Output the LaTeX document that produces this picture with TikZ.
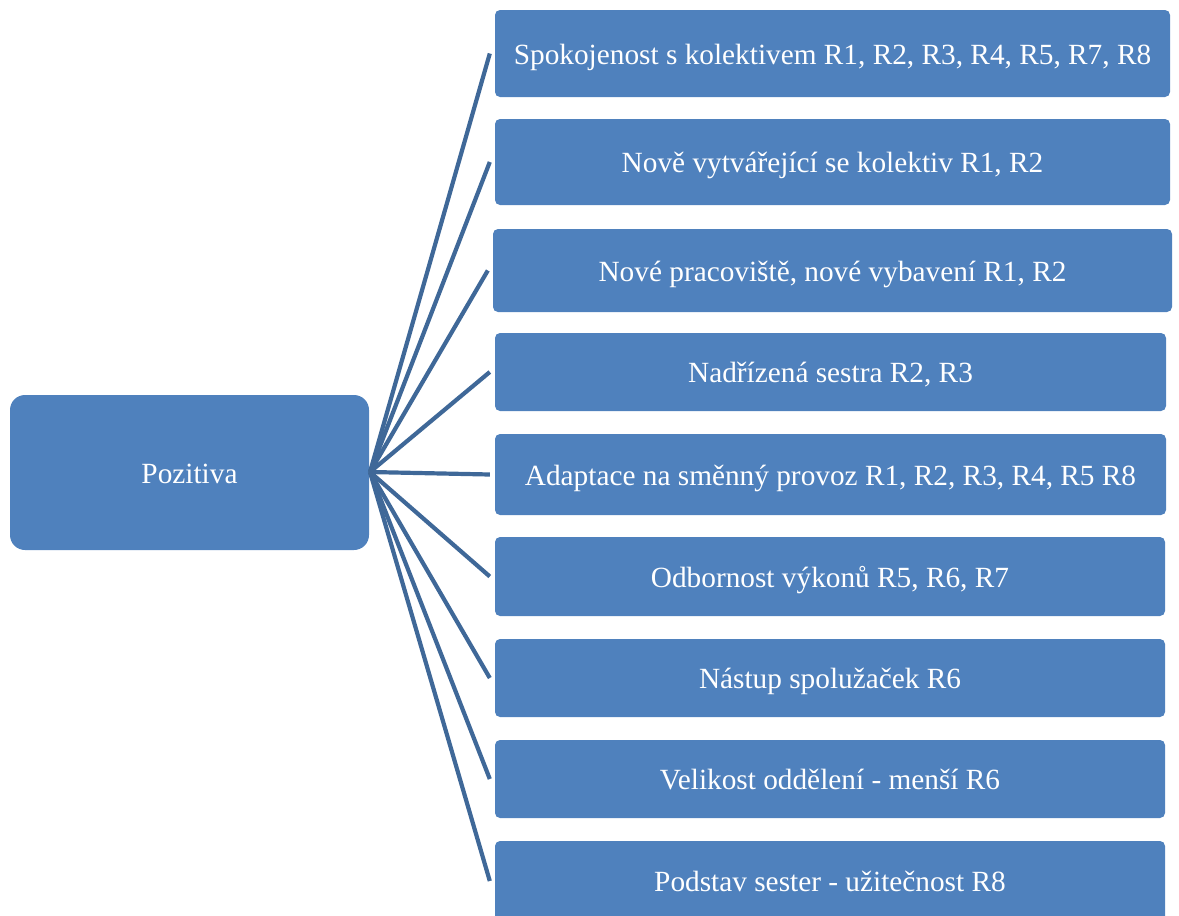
\documentclass[tikz,border=0pt]{standalone}
\usepackage{fontspec}
\setmainfont{Liberation Serif}
\definecolor{boxblue}{HTML}{4F81BD}
\definecolor{linkblue}{HTML}{3F6898}
\tikzset{
  boxtext/.style={text=white, font=\fontsize{29.3}{32}\selectfont, inner sep=0pt, text height=21pt, text depth=0pt},
  hubbox/.style={boxtext, fill=boxblue, rounded corners=15pt},
  itembox/.style={boxtext, fill=boxblue, rounded corners=5pt},
  link/.style={draw=linkblue, line width=4.2pt}
}
\begin{document}
\begin{tikzpicture}[x=1pt, y=-1pt]
\useasboundingbox (0,0) rectangle (1179,916);
\begin{scope}
\clip (0,0) rectangle (1179,916);
\node[hubbox, minimum width=359pt, minimum height=155pt] (hub) at (189.5,472.5) {Pozitiva};
\coordinate (c) at (370,472);

\node[itembox, minimum width=675pt, minimum height=87pt] (b1) at (832.5,53.5) {Spokojenost s kolektivem R1, R2, R3, R4, R5, R7, R8};
\node[itembox, minimum width=675pt, minimum height=86pt] (b2) at (832.5,162) {Nově vytvářející se kolektiv R1, R2};
\node[itembox, minimum width=679pt, minimum height=83pt] (b3) at (832.5,270.5) {Nové pracoviště, nové vybavení R1, R2};
\node[itembox, minimum width=671pt, minimum height=78pt] (b4) at (830.5,372) {Nadřízená sestra R2, R3};
\node[itembox, minimum width=671pt, minimum height=81pt] (b5) at (830.5,474.5) {Adaptace na směnný provoz R1, R2, R3, R4, R5 R8};
\node[itembox, minimum width=670pt, minimum height=79pt] (b6) at (830,576.5) {Odbornost výkonů R5, R6, R7};
\node[itembox, minimum width=670pt, minimum height=78pt] (b7) at (830,678) {Nástup spolužaček R6};
\node[itembox, minimum width=670pt, minimum height=78pt] (b8) at (830,779) {Velikost oddělení - menší R6};
\node[itembox, minimum width=670pt, minimum height=80pt] (b9) at (830,881) {Podstav sester - užitečnost R8};

\foreach \b in {b1,b2,b3,b4,b5,b6,b7,b8,b9}
  \draw[link] (c) -- ([xshift=-5pt]\b.west);
\end{scope}
\end{tikzpicture}
\end{document}
